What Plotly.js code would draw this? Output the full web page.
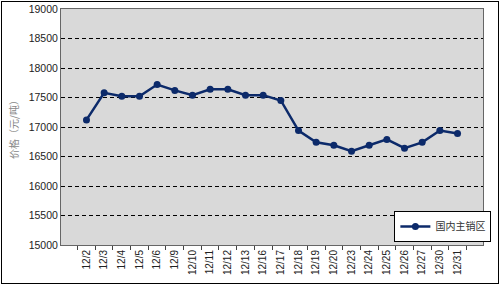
<!DOCTYPE html>
<html><head><meta charset="utf-8">
<script src="https://cdn.plot.ly/plotly-3.0.1.min.js"></script>
<style>
body{margin:0;padding:0;background:#fff;}
#wrap{position:relative;width:500px;height:285px;}
#chart{position:absolute;left:0;top:0;width:500px;height:285px;}
#frame{position:absolute;left:1px;top:1px;width:496px;height:281px;border:1px solid #000;pointer-events:none;}
</style></head>
<body>
<div id="wrap"><div id="chart"></div><div id="frame"></div></div>
<script>
const dates = ["12/2","12/3","12/4","12/5","12/6","12/9","12/10","12/11","12/12","12/13","12/16","12/17","12/18","12/19","12/20","12/23","12/24","12/25","12/26","12/27","12/30","12/31"];
const prices = [17120,17580,17520,17520,17720,17620,17540,17640,17640,17540,17540,17450,16940,16740,16690,16590,16690,16790,16640,16740,16940,16890];
const seriesName = "国内主销区";
const yTicks = [15000,15500,16000,16500,17000,17500,18000,18500,19000];

Plotly.newPlot("chart", [{
  x: dates, y: prices, type: "scatter", mode: "lines+markers", name: seriesName,
  line: {color: "#0c2a6a", width: 2.5},
  marker: {color: "#0c2a6a", size: 7},
  showlegend: true
}], {
  width: 500, height: 285,
  margin: {l: 61, r: 9, t: 9, b: 40},
  paper_bgcolor: "#ffffff",
  plot_bgcolor: "#d9d9d9",
  font: {family: "Liberation Sans, Arial, sans-serif", color: "#222"},
  xaxis: {
    type: "category", tickangle: -90, tickson: "boundaries",
    ticks: "outside", ticklen: 4, tickcolor: "#444",
    tickfont: {size: 10, family: "Liberation Sans, Arial, sans-serif", color: "#222"},
    showgrid: false, showline: true, linecolor: "#666", linewidth: 1, mirror: true,
    zeroline: false, automargin: false
  },
  yaxis: {
    range: [15000, 19000], tickvals: yTicks, ticktext: yTicks.map(String),
    tickfont: {size: 10.5, family: "Liberation Sans, Arial, sans-serif", color: "#222"},
    showgrid: true, gridcolor: "#000", griddash: "4px,3px", gridwidth: 1,
    showline: true, linecolor: "#666", linewidth: 1, mirror: true,
    zeroline: false, ticks: "", automargin: false,
    title: {text: "价格（元/吨）", font: {size: 10, color: "#888", family: "Noto Sans CJK SC"}, standoff: 8}
  },
  legend: {
    x: 0.79, y: 0.013, xanchor: "left", yanchor: "bottom",
    bgcolor: "#ffffff", bordercolor: "#000", borderwidth: 1,
    itemwidth: 30,
    font: {size: 10, family: "Noto Sans CJK SC", color: "#333"}
  },
  showlegend: true
}, {displayModeBar: false, staticPlot: true});
</script>
</body></html>
